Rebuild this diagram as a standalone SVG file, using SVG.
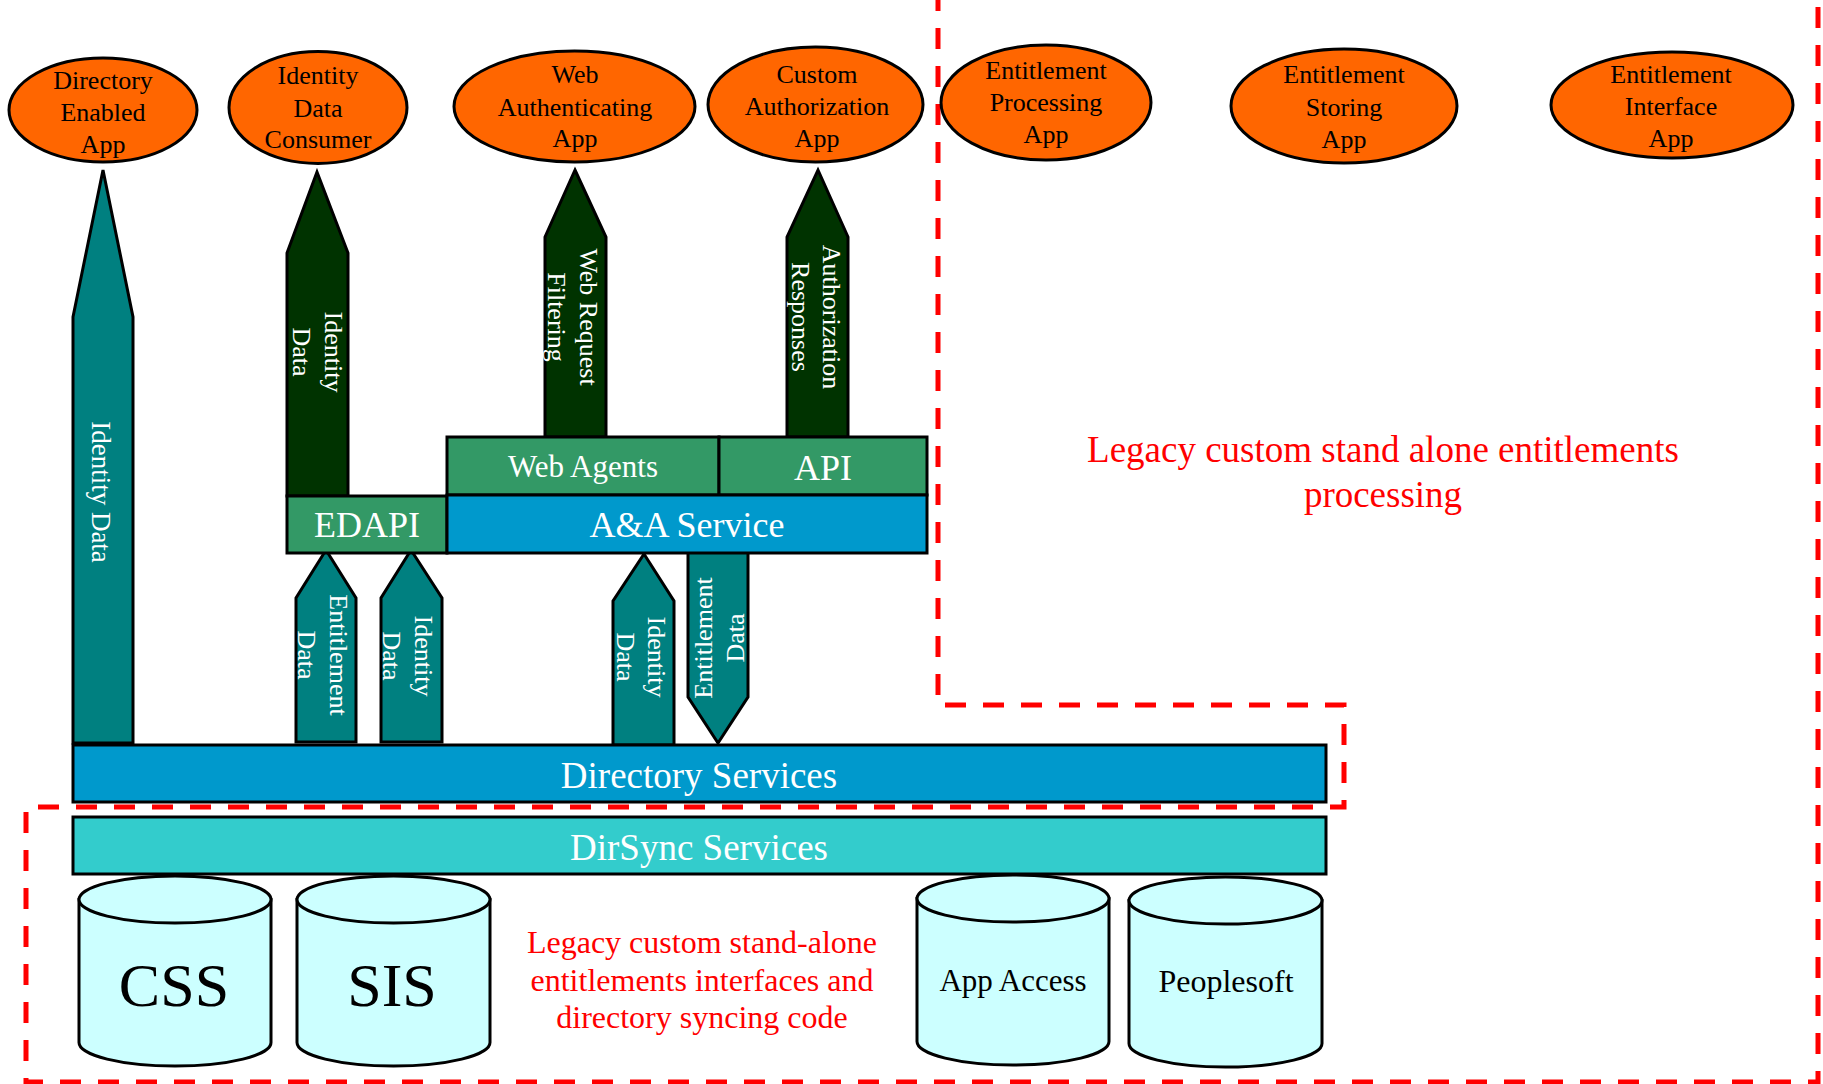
<svg xmlns="http://www.w3.org/2000/svg" width="1823" height="1084" viewBox="0 0 1823 1084">
  <style>
    text { font-family: "Liberation Serif", "Times New Roman", serif; }
    .app { fill: #ff6600; stroke: #000; stroke-width: 3; }
    .app-label { font-size: 26px; fill: #000; text-anchor: middle; }
    .flow-teal { fill: #008080; stroke: #000; stroke-width: 3; }
    .flow-dark { fill: #003300; stroke: #000; stroke-width: 3; }
    .flow-label { font-size: 26px; fill: #fff; text-anchor: middle; }
    .layer { stroke: #000; stroke-width: 3; }
    .green { fill: #339966; }
    .blue { fill: #0099cc; }
    .cyan { fill: #33cccc; }
    .layer-label { fill: #fff; text-anchor: middle; }
    .store { fill: #ccffff; stroke: #000; stroke-width: 3; }
    .store-label { fill: #000; text-anchor: middle; }
    .note { fill: #ff0000; text-anchor: middle; }
    .boundary { fill: none; stroke: #ff0000; stroke-width: 5; stroke-dasharray: 21 17; }
  </style>

  <rect width="1823" height="1084" fill="#fff"/>

  <!-- legacy area outline -->
  <path class="boundary" d="M938,-10 L938,705 L1344,705 L1344,807 L26,807 L26,1082 L1818,1082 L1818,-10"/>

  <!-- applications -->
  <g id="directory-enabled-app">
    <ellipse class="app" cx="103" cy="110" rx="94" ry="52"/>
    <text class="app-label"><tspan x="103" y="89">Directory</tspan><tspan x="103" y="121">Enabled</tspan><tspan x="103" y="153">App</tspan></text>
  </g>
  <g id="identity-data-consumer">
    <ellipse class="app" cx="318" cy="107.5" rx="89" ry="56"/>
    <text class="app-label"><tspan x="318" y="84">Identity</tspan><tspan x="318" y="117">Data</tspan><tspan x="318" y="148">Consumer</tspan></text>
  </g>
  <g id="web-authenticating-app">
    <ellipse class="app" cx="574.5" cy="106.5" rx="120.5" ry="55.5"/>
    <text class="app-label"><tspan x="575" y="83">Web</tspan><tspan x="575" y="116">Authenticating</tspan><tspan x="575" y="147">App</tspan></text>
  </g>
  <g id="custom-authorization-app">
    <ellipse class="app" cx="815.5" cy="104.5" rx="107.5" ry="57.5"/>
    <text class="app-label"><tspan x="817" y="83">Custom</tspan><tspan x="817" y="115">Authorization</tspan><tspan x="817" y="147">App</tspan></text>
  </g>
  <g id="entitlement-processing-app">
    <ellipse class="app" cx="1046" cy="102.5" rx="105" ry="57.5"/>
    <text class="app-label"><tspan x="1046" y="79">Entitlement</tspan><tspan x="1046" y="111">Processing</tspan><tspan x="1046" y="143">App</tspan></text>
  </g>
  <g id="entitlement-storing-app">
    <ellipse class="app" cx="1344" cy="106" rx="113" ry="57"/>
    <text class="app-label"><tspan x="1344" y="83">Entitlement</tspan><tspan x="1344" y="116">Storing</tspan><tspan x="1344" y="148">App</tspan></text>
  </g>
  <g id="entitlement-interface-app">
    <ellipse class="app" cx="1672" cy="105" rx="121" ry="53"/>
    <text class="app-label"><tspan x="1671" y="83">Entitlement</tspan><tspan x="1671" y="115">Interface</tspan><tspan x="1671" y="147">App</tspan></text>
  </g>

  <!-- data flows (block arrows) -->
  <g id="connectors">
    <g id="flow-identity-directory-app">
      <polygon class="flow-teal" points="103,170 133,317 133,743 73,743 73,317"/>
      <text class="flow-label" style="font-size:27px" transform="translate(92,492) rotate(90)" x="0" y="0">Identity Data</text>
    </g>
    <g id="flow-identity-consumer">
      <polygon class="flow-dark" points="317,172 348,253 348,496 287,496 287,253"/>
      <text class="flow-label" transform="translate(325,352) rotate(90)"><tspan x="0" y="0">Identity</tspan><tspan x="0" y="32">Data</tspan></text>
    </g>
    <g id="flow-web-request">
      <polygon class="flow-dark" points="575,170 606,237 606,437 545,437 545,237"/>
      <text class="flow-label" transform="translate(580,317) rotate(90)"><tspan x="0" y="0">Web Request</tspan><tspan x="0" y="32">Filtering</tspan></text>
    </g>
    <g id="flow-authorization">
      <polygon class="flow-dark" points="818,170 848,237 848,437 787,437 787,237"/>
      <text class="flow-label" transform="translate(823,317) rotate(90)"><tspan x="0" y="0">Authorization</tspan><tspan x="0" y="31">Responses</tspan></text>
    </g>
    <g id="flow-edapi-entitlement">
      <polygon class="flow-teal" points="326,550 356,598 356,742 296,742 296,598"/>
      <text class="flow-label" transform="translate(330,655) rotate(90)"><tspan x="0" y="0">Entitlement</tspan><tspan x="0" y="32">Data</tspan></text>
    </g>
    <g id="flow-edapi-identity">
      <polygon class="flow-teal" points="411,550 442,598 442,742 381,742 381,598"/>
      <text class="flow-label" transform="translate(415,656) rotate(90)"><tspan x="0" y="0">Identity</tspan><tspan x="0" y="32">Data</tspan></text>
    </g>
    <g id="flow-aa-identity">
      <polygon class="flow-teal" points="644,554 674,601 674,745 613,745 613,601"/>
      <text class="flow-label" transform="translate(648,657) rotate(90)"><tspan x="0" y="0">Identity</tspan><tspan x="0" y="31">Data</tspan></text>
    </g>
    <g id="flow-aa-entitlement">
      <polygon class="flow-teal" points="688,552 748,552 748,697 718,743 688,697"/>
      <text class="flow-label" transform="translate(712,638) rotate(-90)"><tspan x="0" y="0">Entitlement</tspan><tspan x="0" y="32">Data</tspan></text>
    </g>
  </g>

  <!-- service layers -->
  <g id="edapi">
    <rect class="layer green" x="287" y="496" width="160" height="57"/>
    <text class="layer-label" x="367" y="537" font-size="36">EDAPI</text>
  </g>
  <g id="web-agents">
    <rect class="layer green" x="447" y="437" width="272" height="58"/>
    <text class="layer-label" x="583" y="477" font-size="31">Web Agents</text>
  </g>
  <g id="api">
    <rect class="layer green" x="719" y="437" width="208" height="58"/>
    <text class="layer-label" x="823" y="480" font-size="36">API</text>
  </g>
  <g id="aa-service">
    <rect class="layer blue" x="447" y="495" width="480" height="58"/>
    <text class="layer-label" x="687" y="537" font-size="36">A&amp;A Service</text>
  </g>
  <g id="directory-services">
    <rect class="layer blue" x="73" y="745" width="1253" height="57"/>
    <text class="layer-label" x="699" y="788" font-size="37">Directory Services</text>
  </g>
  <g id="dirsync-services">
    <rect class="layer cyan" x="73" y="817" width="1253" height="57"/>
    <text class="layer-label" x="699" y="860" font-size="37">DirSync Services</text>
  </g>

  <!-- data stores -->
  <g id="css">
    <path class="store" d="M79,899.5 L79,1042.5 A96,23.5 0 0 0 271,1042.5 L271,899.5 Z"/>
    <ellipse class="store" cx="175" cy="899.5" rx="96" ry="23.5"/>
    <text class="store-label" x="174" y="1006" font-size="62">CSS</text>
  </g>
  <g id="sis">
    <path class="store" d="M297,899.5 L297,1042.5 A96.5,23.5 0 0 0 490,1042.5 L490,899.5 Z"/>
    <ellipse class="store" cx="393.5" cy="899.5" rx="96.5" ry="23.5"/>
    <text class="store-label" x="392" y="1006" font-size="62">SIS</text>
  </g>
  <g id="app-access">
    <path class="store" d="M917,898.5 L917,1041.5 A96,23.5 0 0 0 1109,1041.5 L1109,898.5 Z"/>
    <ellipse class="store" cx="1013" cy="898.5" rx="96" ry="23.5"/>
    <text class="store-label" x="1013" y="991" font-size="31">App Access</text>
  </g>
  <g id="peoplesoft">
    <path class="store" d="M1129,900.5 L1129,1043.5 A96.5,23.5 0 0 0 1322,1043.5 L1322,900.5 Z"/>
    <ellipse class="store" cx="1225.5" cy="900.5" rx="96.5" ry="23.5"/>
    <text class="store-label" x="1226" y="992" font-size="32">Peoplesoft</text>
  </g>

  <!-- area notes -->
  <g id="note-processing">
    <text class="note" font-size="37"><tspan x="1383" y="462">Legacy custom stand alone entitlements</tspan><tspan x="1383" y="507">processing</tspan></text>
  </g>
  <g id="note-interfaces">
    <text class="note" font-size="32"><tspan x="702" y="953">Legacy custom stand-alone</tspan><tspan x="702" y="991">entitlements interfaces and</tspan><tspan x="702" y="1028">directory syncing code</tspan></text>
  </g>
</svg>
